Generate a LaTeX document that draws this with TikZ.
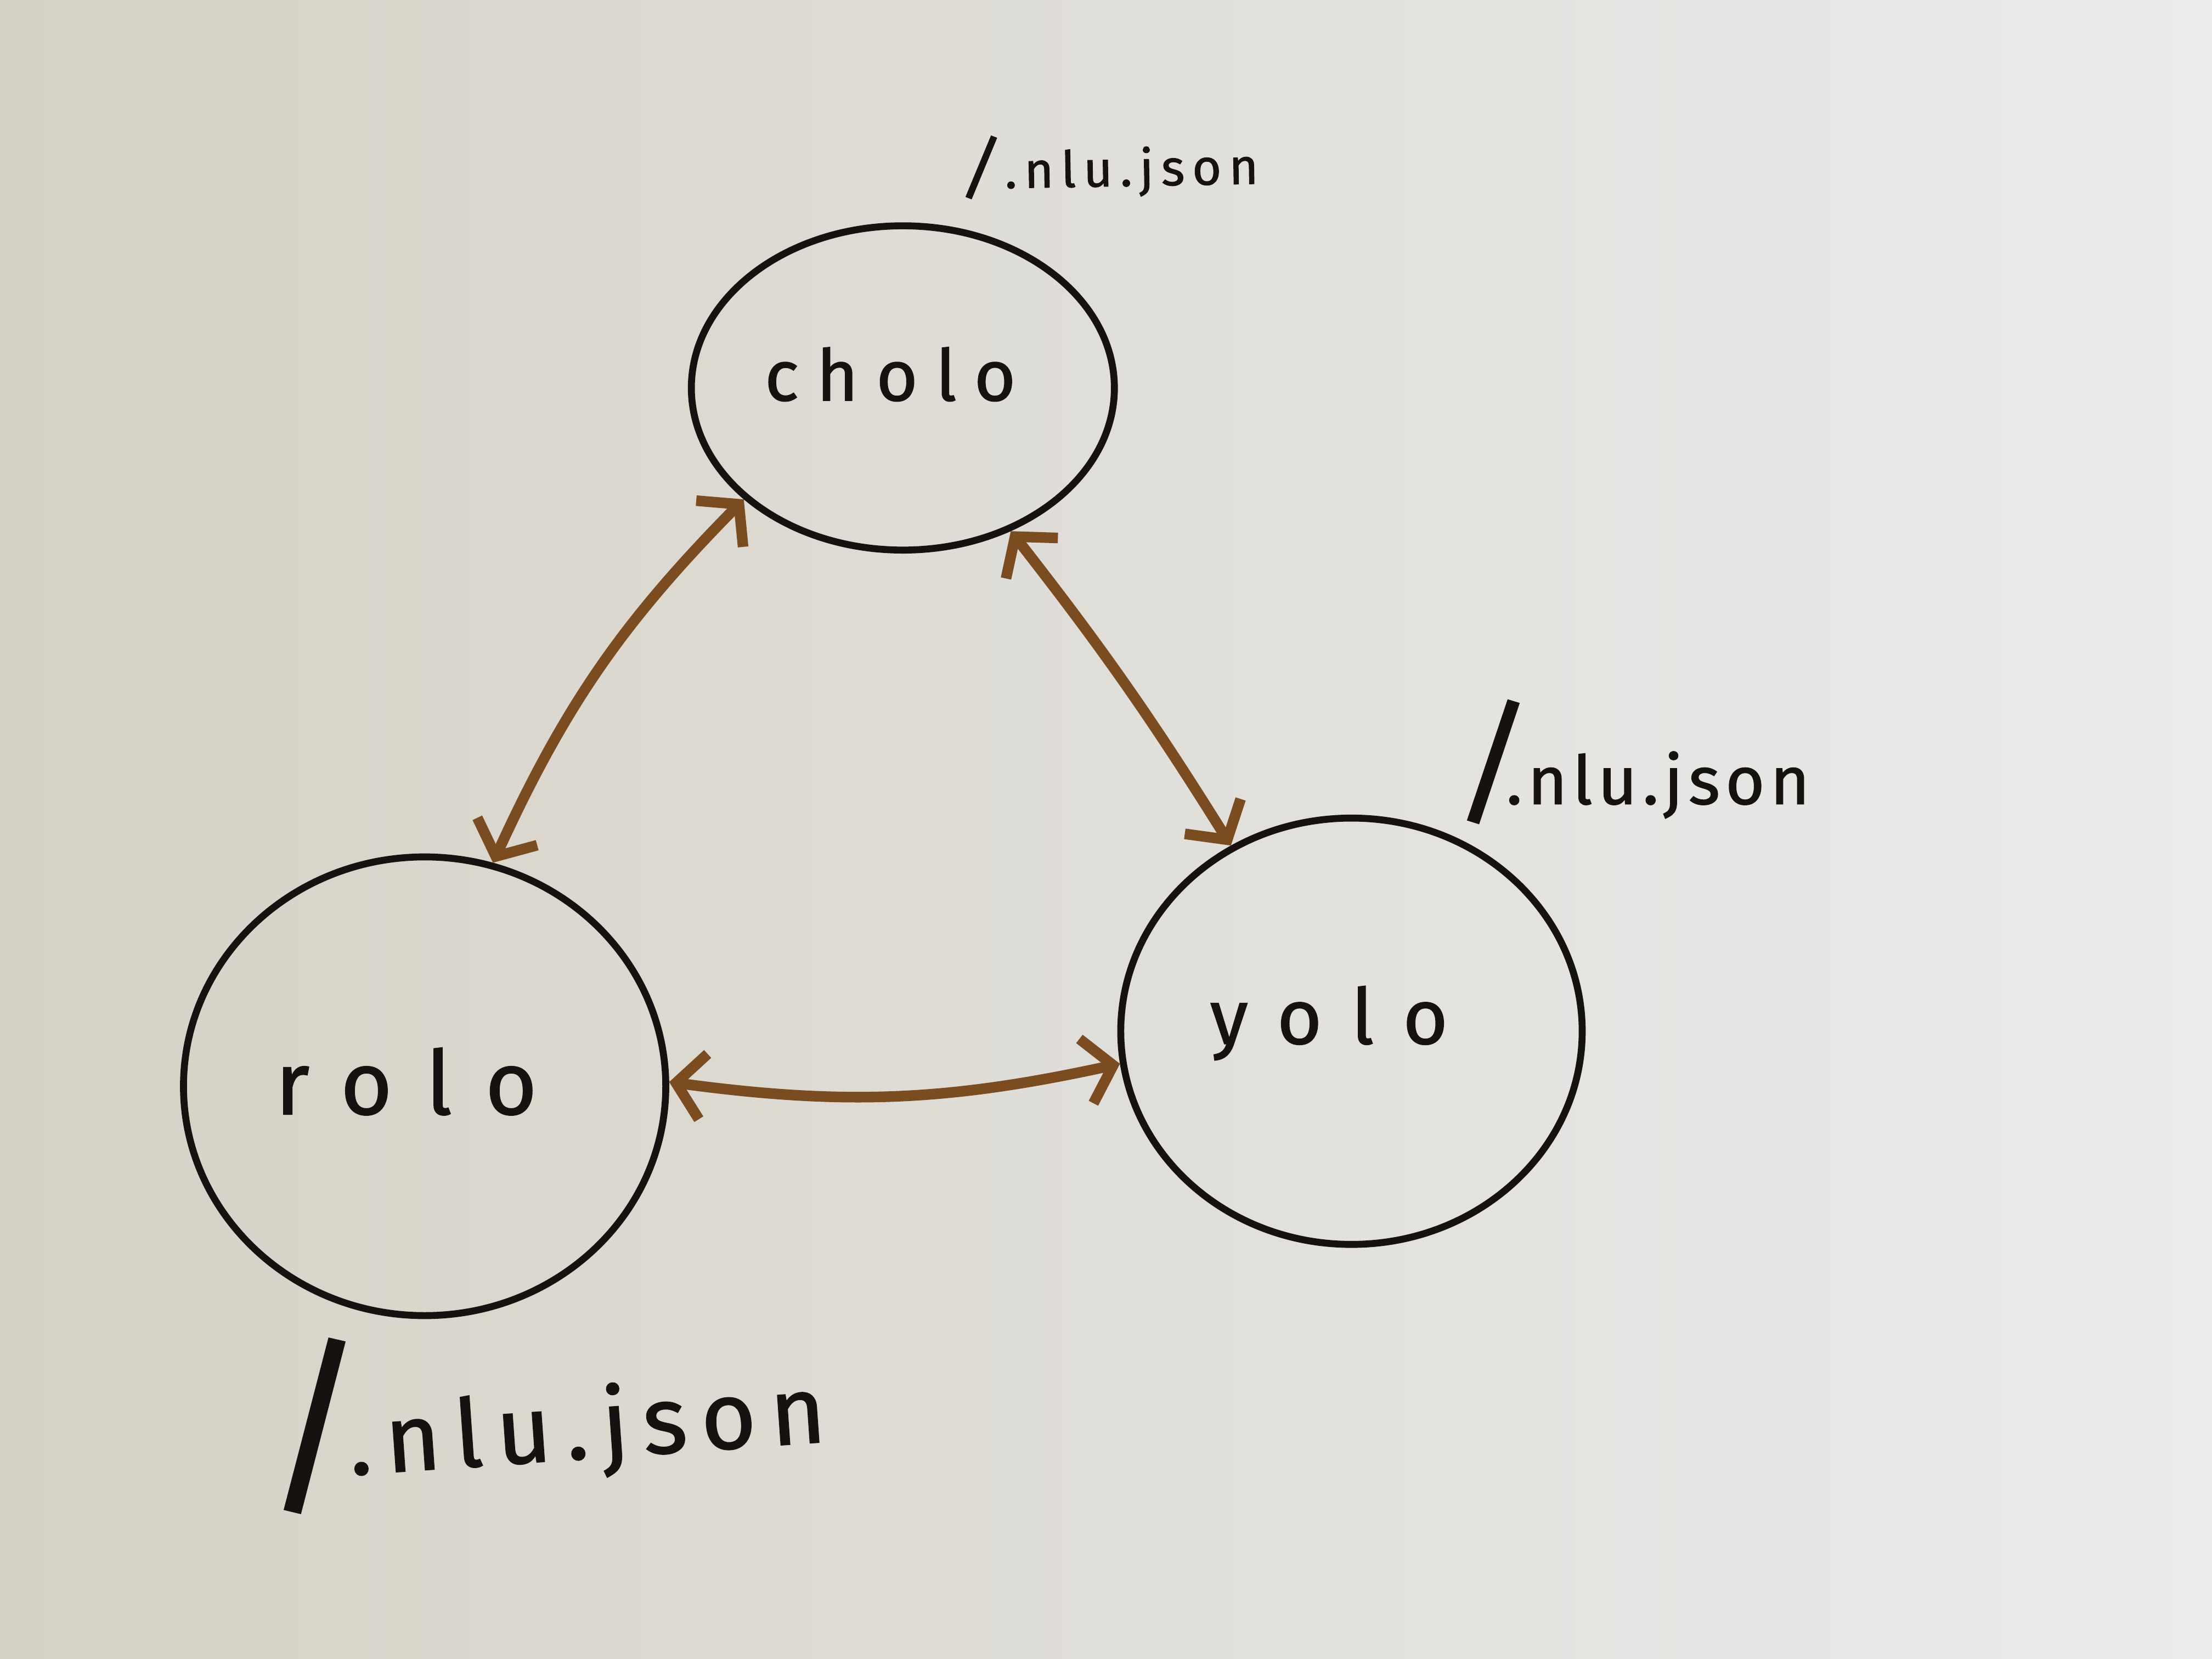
\documentclass[tikz,border=0pt]{standalone}
\usepackage{fontspec}
\setmainfont{Fira Sans}
\newfontfamily\hand[FakeBold=1.2]{Fira Sans}
\usetikzlibrary{shapes.geometric,arrows.meta}
\definecolor{boardL}{RGB}{214,209,197}
\definecolor{boardR}{RGB}{234,235,236}
\definecolor{ink}{RGB}{22,18,16}
\definecolor{brownink}{RGB}{122,76,32}
\tikzset{
  bubble/.style={ellipse, draw=ink, line width=3.6pt, inner sep=0pt, text=ink},
  lbl/.style={inner sep=0pt, text=ink},
  barb/.tip={Straight Barb[length=0.5cm,width=1.2cm,line width=5.5pt]},
  link/.style={draw=brownink, line width=5.5pt, line cap=round, line join=round, {barb}-{barb}}
}
% slash: size, raise, rotation, kern after
\newcommand{\slsh}[4]{\raisebox{#2}{\addfontfeatures{LetterSpace=0}\rotatebox[origin=c]{#3}{\fontsize{#1}{#1}\selectfont /}}\kern#4}
% centred name: doubled x shift, raise of baseline, text
\newcommand{\ctext}[3]{\raisebox{#2}[0pt][0pt]{\makebox[0pt]{\hspace*{#1}#3}}}
\begin{document}
\begin{tikzpicture}[x=0.025714cm,y=-0.025714cm]
\useasboundingbox (0,0) rectangle (1568,1176);
\shade[left color=boardL, right color=boardR] (0,0) rectangle (1568,1176);

\node[bubble, minimum width=7.71cm, minimum height=5.91cm] (cholo) at (640,275)
  {\hand\addfontfeatures{LetterSpace=25}\fontsize{37}{37}\selectfont\ctext{-0.46cm}{-0.23cm}{cholo}};
\node[bubble, minimum width=8.79cm, minimum height=8.36cm] (rolo) at (301,770)
  {\hand\addfontfeatures{LetterSpace=38}\fontsize{46}{46}\selectfont\ctext{-0.67cm}{-0.51cm}{rolo}};
\node[bubble, minimum width=8.41cm, minimum height=7.77cm] (yolo) at (958,731)
  {\hand\addfontfeatures{LetterSpace=38}\fontsize{40}{40}\selectfont\ctext{-0.82cm}{-0.23cm}{yolo}};

\node[lbl, anchor=base west, rotate=1] (lblc) at (679,134)
  {\hand\addfontfeatures{LetterSpace=15}\fontsize{26}{26}\selectfont\slsh{37}{-2pt}{-9}{0pt}.nlu.json};
\node[lbl, anchor=base west] (lbly) at (1030,570)
  {\hand\addfontfeatures{LetterSpace=8}\fontsize{35}{35}\selectfont\slsh{71}{-3pt}{-4}{-14pt}.nlu.json};
\node[lbl, anchor=base west, rotate=4] (lblr) at (186,1050)
  {\hand\addfontfeatures{LetterSpace=15}\fontsize{49}{49}\selectfont\slsh{99}{-8pt}{-4}{-12pt}.nlu.json};

\draw[link] (cholo.215) to[bend right=10] (rolo.73);
\draw[link] (cholo.307) to[bend left=3] (yolo.123);
\draw[link] (rolo.1) to[bend right=10] (yolo.188);
\end{tikzpicture}
\end{document}
